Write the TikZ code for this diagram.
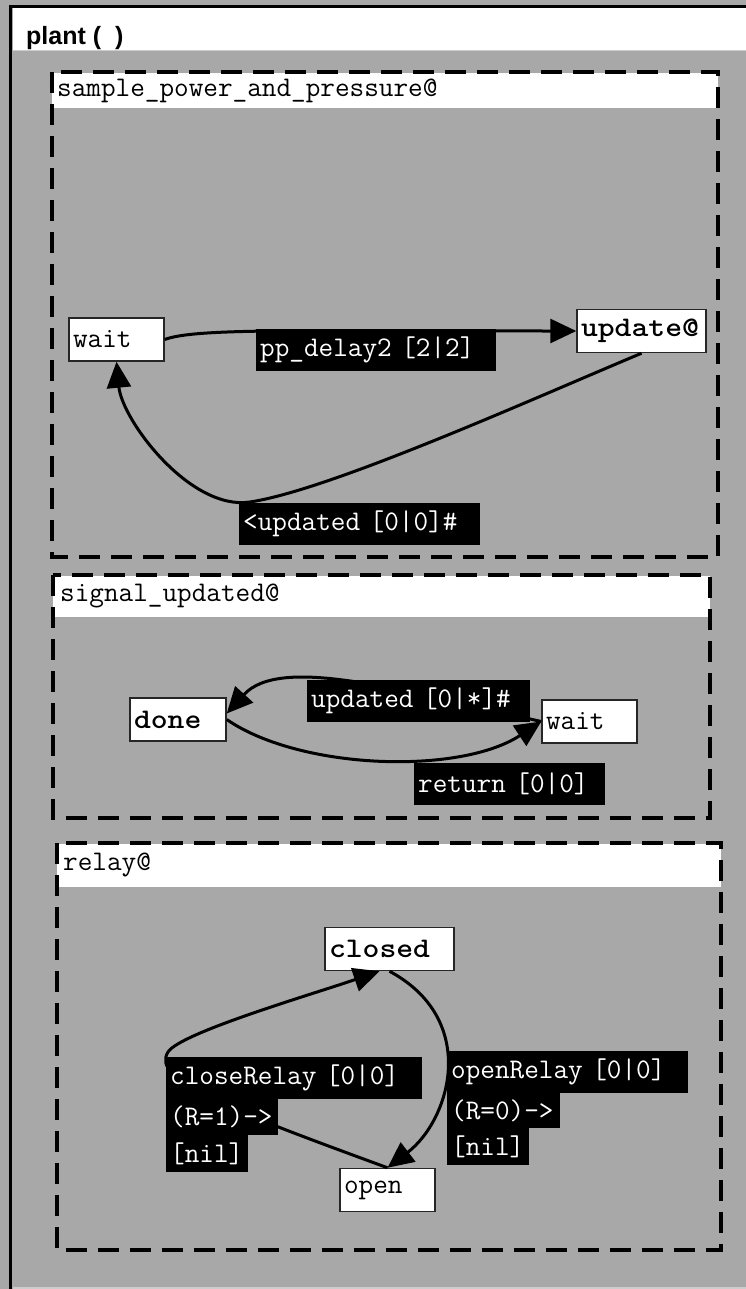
\documentclass[tikz,border=0pt]{standalone}
\usepackage{fontspec}
\usetikzlibrary{arrows.meta}

\newfontfamily\headfont{Liberation Sans}
\newcommand{\statefont}{\ttfamily\fontsize{28.4pt}{32pt}\selectfont}
\newcommand{\stateboldfont}{\ttfamily\bfseries\fontsize{28.4pt}{32pt}\selectfont}
\newcommand{\widebold}[1]{\scalebox{1.13}[1]{#1}}

\definecolor{panelgray}{RGB}{168,168,168}
\definecolor{sepgray}{RGB}{205,205,205}

\begin{document}
\begin{tikzpicture}[x=1pt, y=-1pt,
  % Node styles
  state/.style={draw=black!85, line width=1.5pt, fill=white, font=\statefont, align=left, inner xsep=4pt, inner ysep=0pt, minimum height=43pt},
  bstate/.style={state, font=\stateboldfont},
  % Edge styles
  trans/.style={-{Triangle[length=26pt, width=24pt]}, line width=3pt, black},
  % Label styles
  lbl/.style={fill=black, text=white, font=\statefont, anchor=north west, align=left, inner xsep=4pt, inner ysep=0pt, minimum height=36pt},
  lblfirst/.style={lbl, minimum height=42pt},
  % Region styles
  region/.style={line width=4pt, dash pattern=on 21pt off 11pt},
  regionhead/.style={anchor=west, font=\statefont, inner sep=0pt},
]
\useasboundingbox (0,0) rectangle (746,1289);

% === FRAME: plant ===
\fill[panelgray] (0,0) rectangle (746,1289);
\fill[white] (12.5,8.5) rectangle (746,50);
\draw[sepgray, line width=1.5pt] (12.5,50.5) -- (746,50.5);
\draw[sepgray, line width=1.5pt] (12.5,1288) -- (746,1288);
\draw[black, line width=3.5pt] (10.7,1289) -- (10.7,6.7) -- (746,6.7);
\node[anchor=base west, font=\headfont\bfseries\fontsize{25pt}{30pt}\selectfont, inner sep=0pt] (title) at (26,45) {plant (\ \ )};

% === REGIONS (dashed, white heading strip) ===
\fill[white] (52,73) rectangle (718,108);
\fill[white] (53,576) rectangle (710,617);
\fill[white] (57,844) rectangle (721,887);
\draw[region] (52,72) rectangle (718,557);
\draw[region] (53,575) rectangle (710,818);
\draw[region] (57,843) rectangle (721,1250);
\node[regionhead] (hdSample) at (57,90.5) {sample\_power\_and\_pressure@};
\node[regionhead] (hdSignal) at (60,596) {signal\_updated@};
\node[regionhead] (hdRelay)  at (63,865) {relay@};

% === STATES ===
\node[state,  text width=87pt]  (waitA)  at (116.5,339.5) {wait};
\node[bstate, text width=121pt] (upd)    at (641.5,331)   {\widebold{update@}};
\node[bstate, text width=88pt]  (done)   at (178,719.5)   {\widebold{done}};
\node[state,  text width=87pt]  (waitB)  at (589.5,721.5) {wait};
\node[bstate, text width=121pt] (closed) at (389.5,949)   {\widebold{closed}};
\node[state,  text width=87pt]  (open)   at (387.5,1190)  {open};

\coordinate (bendA) at (250,502);
\coordinate (bendC) at (168,1052);

% ============================================================
% TRANSITIONS
% ============================================================
\draw[trans] (waitA.east) .. controls (195,328) and (300,331) .. (upd.west);
\draw[trans] (upd.south) .. controls (530,400) and (330,490) .. (bendA)
  .. controls (190,511) and (122,420) .. (waitA.south);
\draw[trans] (waitB.west) .. controls (400,690) and (280,655) .. ([yshift=6pt]done.east);
\draw[trans] (done.east) .. controls (300,770) and (460,775) .. (waitB.west);
\draw[trans] (open.north) .. controls (230,1110) and (150,1080) .. (bendC)
  .. controls (180,1033) and (310,995) .. ([xshift=-10pt]closed.south);
\draw[trans] (closed.south) .. controls (480,1020) and (450,1120) .. (open.north);

% ============================================================
% TRANSITION LABELS
% ============================================================
\node[lblfirst, text width=232pt] (lDelay)   at (256,329) {pp\_delay2 [2|2]};
\node[lblfirst, text width=233pt] (lBack)    at (239,503) {<updated [0|0]\#};
\node[lblfirst, text width=215pt] (lUpdated) at (307,680) {updated [0|*]\#};
\node[lblfirst, text width=183pt] (lReturn)  at (414,763) {return [0|0]};
\node[lblfirst, text width=248pt] (lClose)   at (166,1057) {closeRelay [0|0]};
\node[lbl, text width=104pt]      (lCloseR)  at (166,1099) {(R=1)->};
\node[lbl, text width=74pt, minimum height=37pt] (lCloseN) at (166,1135) {[nil]};
\node[lblfirst, text width=233pt] (lOpen)    at (447,1051) {openRelay [0|0]};
\node[lbl, text width=105pt, minimum height=35pt] (lOpenR) at (447,1093) {(R=0)->};
\node[lbl, text width=74pt, minimum height=37pt]  (lOpenN) at (447,1128) {[nil]};

\end{tikzpicture}
\end{document}
